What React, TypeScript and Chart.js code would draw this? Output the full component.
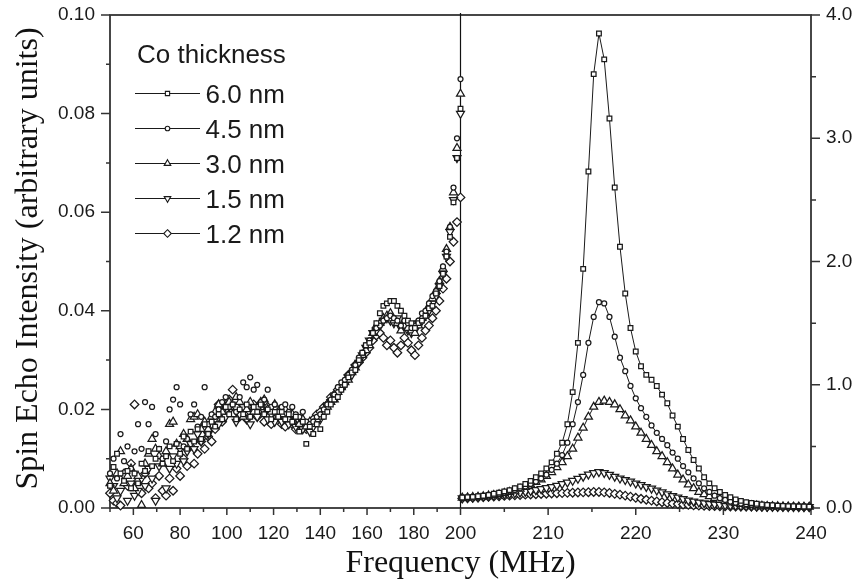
import React, { useEffect, useRef } from "react";
import { Chart, registerables } from "chart.js";

Chart.register(...registerables);

// ---------- data ----------
const seriesLabels = ["6.0 nm", "4.5 nm", "3.0 nm", "1.5 nm", "1.2 nm"];
const legendTitle = "Co thickness";
const xTitle = "Frequency (MHz)";
const yTitle = "Spin Echo Intensity (arbitrary units)";

// left panel: 50 - 200 MHz (left axis, 0 - 0.10)
const leftFreq = [
  50, 51.5, 53, 54.5, 56, 57.5, 59, 60.5, 62, 63.5,
  65, 66.5, 68, 69.5, 71, 72.5, 74, 75.5, 77, 78.5,
  80, 81.5, 83, 84.5, 86, 87.5, 89, 90.5, 92, 93.5,
  95, 96.5, 98, 99.5, 101, 102.5, 104, 105.5, 107, 108.5,
  110, 111.5, 113, 114.5, 116, 117.5, 119, 120.5, 122, 123.5,
  125, 126.5, 128, 129.5, 131, 132.5, 134, 135.5, 137, 138.5,
  140, 141.5, 143, 144.5, 146, 147.5, 149, 150.5, 152, 153.5,
  155, 156.5, 158, 159.5, 161, 162.5, 164, 165.5, 167, 168.5,
  170, 171.5, 173, 174.5, 176, 177.5, 179, 180.5, 182, 183.5,
  185, 186.5, 188, 189.5, 191, 192.5, 194, 195.5, 197, 198.5,
  200,
];

const left60 = [
  0.0045, 0.0083, 0.0110, 0.0070, 0.0055, 0.0075, 0.0040, 0.0070, 0.0050, 0.0090,
  0.0075, 0.0115, 0.0085, 0.0100, 0.0120, 0.0090, 0.0105, 0.0125, 0.0095, 0.0130,
  0.0110, 0.0145, 0.0120, 0.0155, 0.0135, 0.0160, 0.0140, 0.0170, 0.0150, 0.0175,
  0.0165, 0.0190, 0.0180, 0.0205, 0.0190, 0.0210, 0.0180, 0.0200, 0.0190, 0.0210,
  0.0185, 0.0205, 0.0195, 0.0210, 0.0190, 0.0200, 0.0180, 0.0195, 0.0185, 0.0195,
  0.0180, 0.0190, 0.0175, 0.0185, 0.0155, 0.0175, 0.0130, 0.0165, 0.0150, 0.0170,
  0.0160, 0.0185, 0.0195, 0.0210, 0.0220, 0.0225, 0.0240, 0.0250, 0.0265, 0.0275,
  0.0280, 0.0300, 0.0315, 0.0330, 0.0335, 0.0355, 0.0375, 0.0395, 0.0410, 0.0415,
  0.0420, 0.0420, 0.0410, 0.0400, 0.0390, 0.0380, 0.0375, 0.0365, 0.0375, 0.0380,
  0.0390, 0.0405, 0.0410, 0.0435, 0.0450, 0.0475, 0.0510, 0.0550, 0.0620, 0.0710,
  0.0810,
];

const left45 = [
  0.0070, 0.0100, 0.0060, 0.0150, 0.0095, 0.0125, 0.0080, 0.0115, 0.0170, 0.0120,
  0.0215, 0.0170, 0.0205, 0.0150, 0.0120, 0.0100, 0.0135, 0.0200, 0.0220, 0.0245,
  0.0210, 0.0125, 0.0140, 0.0190, 0.0210, 0.0165, 0.0185, 0.0245, 0.0170, 0.0190,
  0.0185, 0.0200, 0.0215, 0.0225, 0.0205, 0.0210, 0.0195, 0.0225, 0.0255, 0.0245,
  0.0265, 0.0240, 0.0250, 0.0215, 0.0220, 0.0240, 0.0205, 0.0210, 0.0195, 0.0205,
  0.0210, 0.0195, 0.0205, 0.0190, 0.0185, 0.0195, 0.0175, 0.0170, 0.0175, 0.0185,
  0.0190, 0.0200, 0.0210, 0.0220, 0.0230, 0.0245, 0.0255, 0.0260, 0.0270, 0.0280,
  0.0290, 0.0305, 0.0315, 0.0330, 0.0340, 0.0355, 0.0365, 0.0370, 0.0380, 0.0385,
  0.0390, 0.0385, 0.0380, 0.0370, 0.0380, 0.0375, 0.0365, 0.0370, 0.0380, 0.0395,
  0.0400, 0.0415, 0.0430, 0.0440, 0.0460, 0.0490, 0.0520, 0.0570, 0.0650, 0.0750,
  0.0870,
];

const left30 = [
  0.0050, 0.0035, 0.0070, 0.0115, 0.0050, 0.0065, 0.0080, 0.0040, 0.0065, 0.0006,
  0.0090, 0.0110, 0.0140, 0.0120, 0.0105, 0.0090, 0.0115, 0.0170, 0.0175, 0.0130,
  0.0125, 0.0150, 0.0140, 0.0180, 0.0185, 0.0190, 0.0160, 0.0175, 0.0160, 0.0185,
  0.0195, 0.0210, 0.0195, 0.0205, 0.0215, 0.0190, 0.0225, 0.0215, 0.0185, 0.0200,
  0.0215, 0.0195, 0.0205, 0.0215, 0.0220, 0.0200, 0.0195, 0.0210, 0.0185, 0.0190,
  0.0200, 0.0180, 0.0190, 0.0185, 0.0170, 0.0180, 0.0165, 0.0175, 0.0170, 0.0180,
  0.0185, 0.0195, 0.0205, 0.0215, 0.0220, 0.0235, 0.0245, 0.0255, 0.0260, 0.0275,
  0.0285, 0.0300, 0.0310, 0.0320, 0.0330, 0.0355, 0.0370, 0.0375, 0.0385, 0.0390,
  0.0395, 0.0380, 0.0375, 0.0360, 0.0380, 0.0365, 0.0360, 0.0355, 0.0370, 0.0385,
  0.0395, 0.0410, 0.0425, 0.0440, 0.0460, 0.0485, 0.0525, 0.0570, 0.0640, 0.0730,
  0.0840,
];

const left15 = [
  0.0060, 0.0045, 0.0020, 0.0035, 0.0065, 0.0015, 0.0050, 0.0025, 0.0035, 0.0060,
  0.0045, 0.0080, 0.0060, 0.0015, 0.0085, 0.0100, 0.0040, 0.0080, 0.0105, 0.0090,
  0.0120, 0.0095, 0.0115, 0.0130, 0.0120, 0.0150, 0.0135, 0.0160, 0.0150, 0.0170,
  0.0180, 0.0170, 0.0195, 0.0185, 0.0205, 0.0195, 0.0175, 0.0190, 0.0205, 0.0180,
  0.0170, 0.0195, 0.0185, 0.0200, 0.0195, 0.0180, 0.0190, 0.0175, 0.0185, 0.0175,
  0.0180, 0.0170, 0.0175, 0.0165, 0.0175, 0.0160, 0.0165, 0.0155, 0.0165, 0.0175,
  0.0180, 0.0190, 0.0205, 0.0215, 0.0225, 0.0230, 0.0245, 0.0250, 0.0265, 0.0270,
  0.0285, 0.0295, 0.0310, 0.0325, 0.0340, 0.0355, 0.0360, 0.0370, 0.0380, 0.0385,
  0.0380, 0.0375, 0.0385, 0.0365, 0.0370, 0.0360, 0.0355, 0.0360, 0.0375, 0.0380,
  0.0390, 0.0400, 0.0415, 0.0430, 0.0450, 0.0475, 0.0510, 0.0560, 0.0625, 0.0710,
  0.0800,
];

const left12 = [
  0.0030, 0.0015, 0.0010, 0.0005, 0.0070, 0.0045, 0.0090, 0.0210, 0.0055, 0.0030,
  0.0070, 0.0040, 0.0050, 0.0020, 0.0065, 0.0035, 0.0025, 0.0060, 0.0035, 0.0080,
  0.0065, 0.0100, 0.0085, 0.0125, 0.0090, 0.0110, 0.0135, 0.0120, 0.0145, 0.0135,
  0.0160, 0.0210, 0.0175, 0.0200, 0.0220, 0.0240, 0.0205, 0.0185, 0.0200, 0.0180,
  0.0195, 0.0210, 0.0185, 0.0205, 0.0175, 0.0205, 0.0170, 0.0180, 0.0195, 0.0170,
  0.0165, 0.0180, 0.0170, 0.0160, 0.0170, 0.0165, 0.0160, 0.0170, 0.0180, 0.0190,
  0.0195, 0.0205, 0.0210, 0.0225, 0.0230, 0.0240, 0.0245, 0.0255, 0.0270, 0.0275,
  0.0290, 0.0295, 0.0305, 0.0315, 0.0325, 0.0340, 0.0350, 0.0355, 0.0345, 0.0330,
  0.0340, 0.0325, 0.0315, 0.0330, 0.0345, 0.0335, 0.0320, 0.0310, 0.0330, 0.0345,
  0.0360, 0.0370, 0.0385, 0.0400, 0.0420, 0.0445, 0.0465, 0.0500, 0.0540, 0.0580,
  0.0630,
];

// right panel: 200 - 240 MHz (right axis, 0 - 4.0)
const rightFreq = [
  200.2, 200.8, 201.4, 202.0, 202.6, 203.2, 203.8, 204.4, 205.0, 205.6,
  206.2, 206.8, 207.4, 208.0, 208.6, 209.2, 209.8, 210.4, 211.0, 211.6,
  212.2, 212.8, 213.4, 214.0, 214.6, 215.2, 215.8, 216.4, 217.0, 217.6,
  218.2, 218.8, 219.4, 220.0, 220.6, 221.2, 221.8, 222.4, 223.0, 223.6,
  224.2, 224.8, 225.4, 226.0, 226.6, 227.2, 227.8, 228.4, 229.0, 229.6,
  230.2, 230.8, 231.4, 232.0, 232.6, 233.2, 233.8, 234.4, 235.0, 235.6,
  236.2, 236.8, 237.4, 238.0, 238.6, 239.2, 239.8,
];

const right60 = [
  0.085, 0.088, 0.090, 0.095, 0.100, 0.105, 0.115, 0.125, 0.135, 0.145,
  0.160, 0.175, 0.195, 0.220, 0.250, 0.280, 0.320, 0.370, 0.440, 0.530,
  0.680, 0.940, 1.340, 1.940, 2.730, 3.520, 3.850, 3.640, 3.160, 2.600,
  2.120, 1.740, 1.460, 1.270, 1.150, 1.080, 1.040, 0.990, 0.920, 0.850,
  0.750, 0.660, 0.560, 0.470, 0.390, 0.320, 0.250, 0.200, 0.160, 0.130,
  0.105, 0.087, 0.070, 0.058, 0.048, 0.040, 0.034, 0.029, 0.025, 0.022,
  0.019, 0.017, 0.015, 0.014, 0.013, 0.012, 0.011,
];

const right45 = [
  0.082, 0.085, 0.088, 0.092, 0.096, 0.100, 0.108, 0.116, 0.125, 0.135,
  0.147, 0.160, 0.175, 0.195, 0.215, 0.240, 0.270, 0.310, 0.360, 0.430,
  0.530, 0.680, 0.860, 1.080, 1.340, 1.550, 1.670, 1.660, 1.550, 1.390,
  1.220, 1.110, 0.990, 0.890, 0.810, 0.740, 0.670, 0.610, 0.560, 0.510,
  0.450, 0.400, 0.340, 0.290, 0.240, 0.200, 0.160, 0.130, 0.100, 0.080,
  0.065, 0.052, 0.043, 0.036, 0.031, 0.027, 0.024, 0.021, 0.019, 0.017,
  0.015, 0.014, 0.013, 0.012, 0.011, 0.010, 0.010,
];

const right30 = [
  0.083, 0.085, 0.088, 0.090, 0.095, 0.100, 0.105, 0.110, 0.120, 0.130,
  0.140, 0.155, 0.170, 0.190, 0.210, 0.230, 0.260, 0.290, 0.330, 0.370,
  0.420, 0.480, 0.570, 0.650, 0.740, 0.820, 0.860, 0.870, 0.860, 0.840,
  0.800, 0.750, 0.710, 0.660, 0.610, 0.560, 0.510, 0.460, 0.420, 0.370,
  0.320, 0.270, 0.230, 0.190, 0.160, 0.130, 0.110, 0.095, 0.080, 0.067,
  0.055, 0.045, 0.037, 0.031, 0.026, 0.022, 0.019, 0.017, 0.015, 0.014,
  0.013, 0.012, 0.011, 0.010, 0.010, 0.009, 0.009,
];

const right15 = [
  0.080, 0.082, 0.085, 0.088, 0.092, 0.096, 0.100, 0.105, 0.110, 0.115,
  0.120, 0.126, 0.132, 0.139, 0.146, 0.154, 0.163, 0.172, 0.182, 0.195,
  0.208, 0.222, 0.238, 0.255, 0.272, 0.285, 0.292, 0.285, 0.270, 0.255,
  0.240, 0.228, 0.215, 0.200, 0.187, 0.172, 0.158, 0.143, 0.128, 0.113,
  0.098, 0.085, 0.073, 0.062, 0.053, 0.045, 0.039, 0.034, 0.030, 0.026,
  0.023, 0.020, 0.018, 0.016, 0.015, 0.014, 0.013, 0.012, 0.011, 0.011,
  0.010, 0.010, 0.009, 0.009, 0.009, 0.008, 0.008,
];

const right12 = [
  0.078, 0.080, 0.083, 0.085, 0.088, 0.090, 0.093, 0.095, 0.098, 0.100,
  0.103, 0.105, 0.108, 0.110, 0.112, 0.114, 0.116, 0.118, 0.120, 0.121,
  0.123, 0.124, 0.126, 0.127, 0.128, 0.130, 0.130, 0.127, 0.122, 0.115,
  0.108, 0.100, 0.092, 0.083, 0.075, 0.067, 0.060, 0.053, 0.047, 0.041,
  0.036, 0.032, 0.028, 0.025, 0.022, 0.020, 0.018, 0.016, 0.015, 0.014,
  0.013, 0.012, 0.012, 0.011, 0.011, 0.011, 0.010, 0.010, 0.010, 0.010,
  0.009, 0.009, 0.009, 0.009, 0.008, 0.008, 0.008,
];

const leftSeries = [left60, left45, left30, left15, left12];
const rightSeries = [right60, right45, right30, right15, right12];

// ---------- styles ----------
const SANS = "'Liberation Sans', Arial, Helvetica, sans-serif";
const SERIF = "'Liberation Serif', 'Times New Roman', Times, serif";
const INK = "#1a1a1a";
const AXIS = "#333";

const markerStyles = [
  { style: "rect", radius: 3.3, rotation: 0, legendRadius: 3 },
  { style: "circle", radius: 2.5, rotation: 0, legendRadius: 2.3 },
  { style: "triangle", radius: 4.6, rotation: 0, legendRadius: 3.8 },
  { style: "triangle", radius: 4.6, rotation: 180, legendRadius: 3.8 },
  { style: "rectRot", radius: 4.3, rotation: 0, legendRadius: 3.8 },
];

function drawMarker(ctx: CanvasRenderingContext2D, style: string, x: number, y: number, r: number, rot: number) {
  ctx.beginPath();
  if (style === "rect") {
    const s = r * Math.SQRT1_2;
    ctx.rect(x - s, y - s, 2 * s, 2 * s);
  } else if (style === "circle") {
    ctx.arc(x, y, r, 0, Math.PI * 2);
  } else if (style === "triangle") {
    let a = (rot * Math.PI) / 180;
    ctx.moveTo(x + Math.sin(a) * r, y - Math.cos(a) * r);
    a += (2 * Math.PI) / 3;
    ctx.lineTo(x + Math.sin(a) * r, y - Math.cos(a) * r);
    a += (2 * Math.PI) / 3;
    ctx.lineTo(x + Math.sin(a) * r, y - Math.cos(a) * r);
    ctx.closePath();
  } else {
    ctx.moveTo(x, y - r);
    ctx.lineTo(x + r, y);
    ctx.lineTo(x, y + r);
    ctx.lineTo(x - r, y);
    ctx.closePath();
  }
  ctx.fill();
  ctx.stroke();
}

const framePlugin = {
  id: "frameAndTicks",
  beforeDatasetsDraw(chart: any) {
    const { ctx, chartArea: a, scales } = chart;
    const xL = scales.xL, xR = scales.xR, yL = scales.yL, yR = scales.yR;
    ctx.save();
    ctx.strokeStyle = AXIS;
    ctx.lineWidth = 1.8;
    ctx.strokeRect(a.left, a.top, a.right - a.left, a.bottom - a.top);
    // divider between the two panels
    ctx.strokeStyle = "#111";
    ctx.lineWidth = 1.2;
    ctx.beginPath();
    ctx.moveTo(xR.left, a.top - 2);
    ctx.lineTo(xR.left, a.bottom);
    ctx.stroke();
    // tick marks
    ctx.strokeStyle = AXIS;
    ctx.lineWidth = 1.5;
    ctx.beginPath();
    for (const t of xL.ticks) {
      if (t.value >= 200) continue;
      const p = xL.getPixelForValue(t.value);
      const len = t.value % 20 === 0 ? 7 : 4;
      ctx.moveTo(p, a.bottom);
      ctx.lineTo(p, a.bottom + len);
    }
    for (const t of xR.ticks) {
      const p = xR.getPixelForValue(t.value);
      const len = t.value % 10 === 0 ? 7 : 4;
      ctx.moveTo(p, a.bottom);
      ctx.lineTo(p, a.bottom + len);
    }
    for (const t of yL.ticks) {
      const p = yL.getPixelForValue(t.value);
      const len = Math.round(t.value * 100) % 2 === 0 ? 9 : 4;
      ctx.moveTo(a.left, p);
      ctx.lineTo(a.left - len, p);
    }
    for (const t of yR.ticks) {
      const p = yR.getPixelForValue(t.value);
      const len = Math.round(t.value * 10) % 10 === 0 ? 9 : 5;
      ctx.moveTo(a.right, p);
      ctx.lineTo(a.right + len, p);
    }
    ctx.stroke();
    ctx.restore();
  },
  afterDraw(chart: any) {
    const { ctx, chartArea: a, scales } = chart;
    ctx.save();
    // axis titles
    ctx.fillStyle = "#111";
    ctx.font = `32px ${SERIF}`;
    ctx.textAlign = "center";
    ctx.textBaseline = "alphabetic";
    ctx.fillText(xTitle, scales.xR.left, 572);
    ctx.save();
    ctx.translate(37, (a.top + a.bottom) / 2 - 3);
    ctx.rotate(-Math.PI / 2);
    ctx.fillText(yTitle, 0, 0);
    ctx.restore();

    // legend
    ctx.textAlign = "left";
    ctx.font = `26px ${SANS}`;
    ctx.fillStyle = INK;
    ctx.fillText(legendTitle, 137, 63);
    seriesLabels.forEach((label, i) => {
      const cy = 93.5 + i * 35;
      ctx.strokeStyle = INK;
      ctx.lineWidth = 1;
      ctx.beginPath();
      ctx.moveTo(135, cy);
      ctx.lineTo(200, cy);
      ctx.stroke();
      const m = markerStyles[i];
      ctx.fillStyle = "#fff";
      ctx.lineWidth = 1.1;
      drawMarker(ctx, m.style, 167.5, cy, m.legendRadius, m.rotation);
      ctx.fillStyle = INK;
      ctx.fillText(label, 205.5, cy + 9.3);
    });
    ctx.restore();
  },
};

function buildDatasets() {
  const sets: any[] = [];
  leftSeries.forEach((vals, i) => {
    const m = markerStyles[i];
    sets.push({
      label: seriesLabels[i],
      data: leftFreq.map((f, k) => ({ x: f, y: vals[k] })),
      xAxisID: "xL",
      yAxisID: "yL",
      showLine: false,
      pointStyle: m.style,
      pointRadius: m.radius,
      pointHoverRadius: m.radius,
      pointRotation: m.rotation,
      pointBorderColor: INK,
      pointBackgroundColor: "#fff",
      pointBorderWidth: 1.25,
      clip: false,
    });
  });
  rightSeries.forEach((vals, i) => {
    const m = markerStyles[i];
    sets.push({
      label: seriesLabels[i],
      data: rightFreq.map((f, k) => ({ x: f, y: vals[k] })),
      xAxisID: "xR",
      yAxisID: "yR",
      showLine: true,
      borderColor: INK,
      borderWidth: 1,
      tension: 0,
      pointStyle: m.style,
      pointRadius: m.radius,
      pointHoverRadius: m.radius,
      pointRotation: m.rotation,
      pointBorderColor: INK,
      pointBackgroundColor: "#fff",
      pointBorderWidth: 1.25,
      clip: false,
    });
  });
  return sets;
}

const tickFont = { family: SANS, size: 19 };

function zeroPad(s: any) {
  s.paddingLeft = 0;
  s.paddingRight = 0;
  s.paddingTop = 0;
  s.paddingBottom = 0;
}

export default function App() {
  const ref = useRef<HTMLCanvasElement>(null);
  useEffect(() => {
    if (!ref.current) return;
    const chart = new Chart(ref.current, {
      type: "scatter",
      data: { datasets: buildDatasets() },
      options: {
        animation: false,
        responsive: false,
        devicePixelRatio: 1,
        layout: { padding: { top: 15, left: 0, right: 0, bottom: 0 } },
        plugins: { legend: { display: false }, tooltip: { enabled: false } },
        events: [],
        scales: {
          xL: {
            type: "linear",
            position: "bottom",
            stack: "freq",
            stackWeight: 1,
            min: 50,
            max: 200,
            grid: { display: false, drawTicks: false },
            border: { display: false },
            ticks: {
              stepSize: 10,
              autoSkip: false,
              maxRotation: 0,
              padding: 14,
              color: INK,
              font: tickFont,
              callback: (v: any) => (v % 20 === 0 && v < 200 ? String(v) : ""),
            },
            afterFit: (s: any) => { s.height = 73; zeroPad(s); },
          },
          xR: {
            type: "linear",
            position: "bottom",
            stack: "freq",
            stackWeight: 1,
            min: 200,
            max: 240,
            grid: { display: false, drawTicks: false },
            border: { display: false },
            ticks: {
              stepSize: 5,
              autoSkip: false,
              maxRotation: 0,
              padding: 14,
              color: INK,
              font: tickFont,
              callback: (v: any) => (v % 10 === 0 ? String(v) : ""),
            },
            afterFit: (s: any) => { s.height = 73; zeroPad(s); },
          },
          yL: {
            type: "linear",
            position: "left",
            min: 0,
            max: 0.1,
            grid: { display: false, drawTicks: false },
            border: { display: false },
            ticks: {
              stepSize: 0.01,
              autoSkip: false,
              padding: 15,
              color: INK,
              font: tickFont,
              callback: (v: any) => (Math.round(v * 100) % 2 === 0 ? Number(v).toFixed(2) : ""),
            },
            afterFit: (s: any) => { s.width = 110; zeroPad(s); },
          },
          yR: {
            type: "linear",
            position: "right",
            min: 0,
            max: 4,
            grid: { display: false, drawTicks: false },
            border: { display: false },
            ticks: {
              stepSize: 0.5,
              autoSkip: false,
              padding: 15,
              color: INK,
              font: tickFont,
              callback: (v: any) => (Math.round(v * 10) % 10 === 0 ? Number(v).toFixed(1) : ""),
            },
            afterFit: (s: any) => { s.width = 45; zeroPad(s); },
          },
        },
      } as any,
      plugins: [framePlugin],
    });
    return () => chart.destroy();
  }, []);

  return (
    <div style={{ position: "fixed", left: 0, top: 0, width: 856, height: 581, background: "#fff" }}>
      <canvas ref={ref} width={856} height={581} style={{ display: "block" }} />
    </div>
  );
}
